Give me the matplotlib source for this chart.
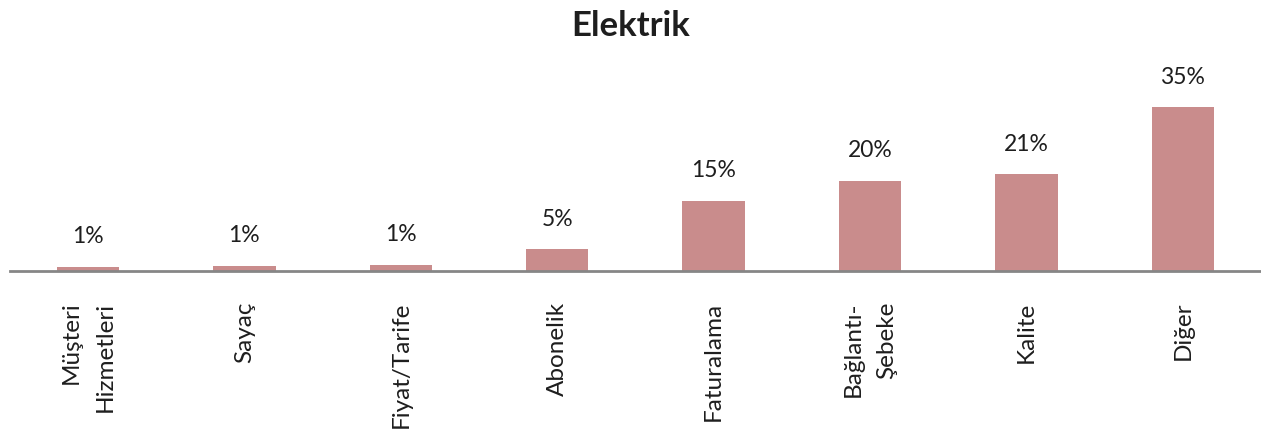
import matplotlib
matplotlib.use("Agg")
import matplotlib.pyplot as plt

categories = ["Müşteri\nHizmetleri", "Sayaç", "Fiyat/Tarife", "Abonelik",
              "Faturalama", "Bağlantı-\nŞebeke", "Kalite", "Diğer"]
values = [0.9, 1.1, 1.3, 4.7, 15.0, 19.3, 20.7, 35.0]
value_labels = ["1%", "1%", "1%", "5%", "15%", "20%", "21%", "35%"]
title = "Elektrik"

bar_color = "#C98C8C"
text_color = "#1E1E1E"

fig = plt.figure(figsize=(12.61, 4.32), dpi=100)
ax = fig.add_axes([9.8 / 1261, 161 / 432, 1 - 9.8 / 1261, 187.4 / 432])

x = list(range(len(categories)))
bars = ax.bar(x, values, width=0.4, color=bar_color, zorder=2)
ax.set_xlim(-0.5, len(categories) - 0.5)
ax.set_ylim(0, 40)

for xi, v, lab in zip(x, values, value_labels):
    ax.annotate(lab, (xi, v), xytext=(0, 14), textcoords="offset points",
                ha="center", va="bottom", fontsize=16.5, fontfamily="Lato",
                color=text_color)

for s in ["top", "right", "left"]:
    ax.spines[s].set_visible(False)
ax.spines["bottom"].set_color("#868686")
ax.spines["bottom"].set_linewidth(2)
ax.set_yticks([])
ax.set_xticks(x)
ax.set_xticklabels(categories, rotation=90, fontsize=17.5, fontfamily="Lato",
                   color=text_color, va="top", ha="center")
for t in ax.get_xticklabels():
    t.set_multialignment("right")
    t.set_linespacing(1.75)
ax.tick_params(axis="x", length=0, pad=22)

fig.text(0.5, 1 - 26 / 432, title, ha="center", va="center", fontsize=25,
         fontweight="bold", fontfamily="Lato", color=text_color)

fig.savefig("out.png", dpi=100)
